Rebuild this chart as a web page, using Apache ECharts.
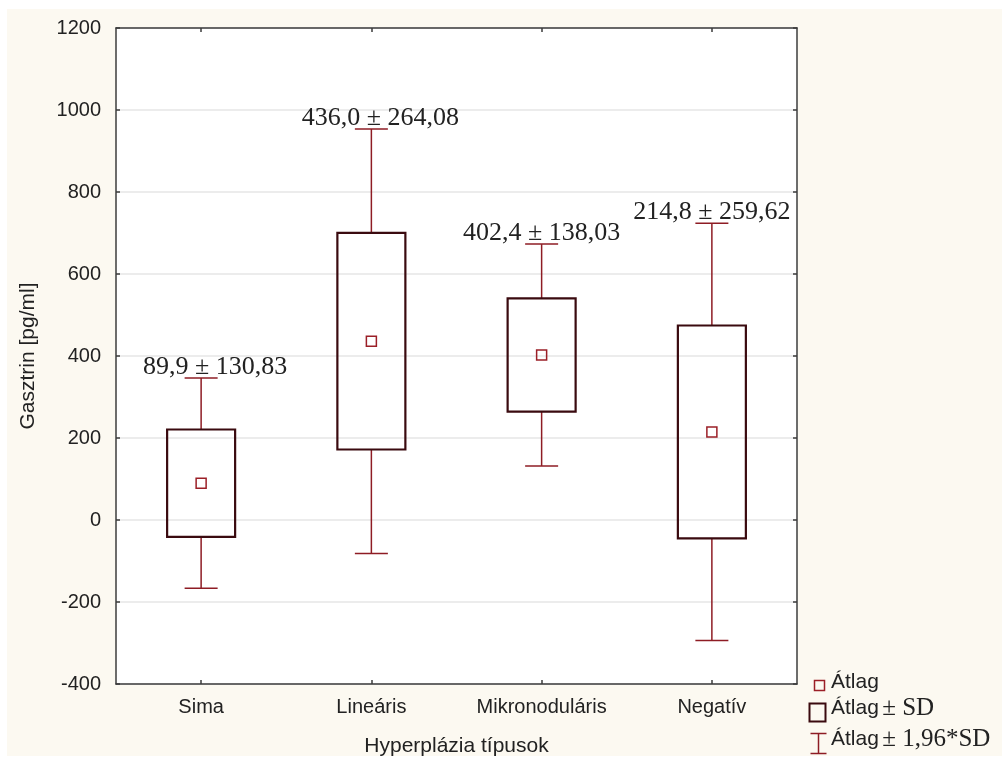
<!DOCTYPE html>
<html>
<head>
<meta charset="utf-8">
<script src="https://cdn.jsdelivr.net/npm/echarts@6/dist/echarts.min.js"></script>
<style>
html,body{margin:0;padding:0;background:#ffffff;}
#c{width:1002px;height:757px;}
</style>
</head>
<body>
<div id="c"></div>
<script>
// ---- data ----
const categories = ['Sima', 'Lineáris', 'Mikronoduláris', 'Negatív'];
const means = [89.9, 436.0, 402.4, 214.8];
const sds = [130.83, 264.08, 138.03, 259.62];
const whiskerFactor = 1.96;
const meanLabels = ['89,9 ± 130,83', '436,0 ± 264,08', '402,4 ± 138,03', '214,8 ± 259,62'];
const yTicks = [-400, -200, 0, 200, 400, 600, 800, 1000, 1200];

// ---- styles ----
const labelShiftX = [14, 9, 0, 0];
const whiskerColor = '#8e1c24';
const boxColor = '#3a0a0f';
const meanColor = '#9b1f27';
const axisColor = '#3c3c3c';
const sans = '"Liberation Sans", Arial, sans-serif';
const serif = '"Liberation Serif", "Times New Roman", serif';

const rows = categories.map((c, i) => [i, means[i], sds[i]]);

const chart = echarts.init(document.getElementById('c'), null, {renderer: 'canvas'});

const lineCommon = {show: true, onZero: false, lineStyle: {color: axisColor, width: 1.5}};
const tickCommon = {show: true, inside: true, length: 4, lineStyle: {color: axisColor, width: 1.5}};

const option = {
  animation: false,
  graphic: [
    {type: 'rect', left: 7, top: 9, shape: {width: 995, height: 747}, style: {fill: '#fcf9f1'}, z: -100, silent: true},
    // legend
    {type: 'rect', left: 812, top: 678, shape: {width: 10, height: 10}, style: {fill: 'none', stroke: meanColor, lineWidth: 1.5}, z: 10},
    {type: 'text', left: 831, top: 672, style: {text: 'Átlag', font: '21px ' + sans, fill: '#222'}, z: 10},
    {type: 'rect', left: 807, top: 701, shape: {width: 16, height: 18}, style: {fill: 'none', stroke: boxColor, lineWidth: 2}, z: 10},
    {type: 'text', left: 831, top: 696, style: {text: '{a|Átlag} {b|± SD}', rich: {a: {font: '21px ' + sans, fill: '#222'}, b: {font: '25px ' + serif, fill: '#222'}}}, z: 10},
    {type: 'group', left: 808, top: 731, z: 10, children: [
      {type: 'line', shape: {x1: 0, y1: 0, x2: 16, y2: 0}, style: {stroke: whiskerColor, lineWidth: 1.5}},
      {type: 'line', shape: {x1: 8, y1: 0, x2: 8, y2: 20}, style: {stroke: whiskerColor, lineWidth: 1.5}},
      {type: 'line', shape: {x1: 0, y1: 20, x2: 16, y2: 20}, style: {stroke: whiskerColor, lineWidth: 1.5}}
    ]},
    {type: 'text', left: 831, top: 727, style: {text: '{a|Átlag} {b|± 1,96*SD}', rich: {a: {font: '21px ' + sans, fill: '#222'}, b: {font: '25px ' + serif, fill: '#222'}}}, z: 10}
  ],
  grid: {left: 116, right: 205, top: 28, bottom: 73, show: true, backgroundColor: '#ffffff', borderWidth: 0, containLabel: false, outerBoundsMode: 'none'},
  xAxis: [
    {
      type: 'category', data: categories, position: 'bottom',
      name: 'Hyperplázia típusok', nameLocation: 'middle', nameGap: 52,
      nameTextStyle: {fontFamily: sans, fontSize: 21, color: '#222'},
      axisLabel: {fontFamily: sans, fontSize: 20, color: '#222', margin: 13},
      axisLine: lineCommon,
      axisTick: Object.assign({alignWithLabel: true}, tickCommon),
      splitLine: {show: false}
    },
    {
      type: 'category', data: categories, position: 'top',
      axisLabel: {show: false}, splitLine: {show: false},
      axisLine: lineCommon,
      axisTick: Object.assign({alignWithLabel: true}, tickCommon)
    }
  ],
  yAxis: [
    {
      type: 'value', min: yTicks[0], max: yTicks[yTicks.length - 1], interval: yTicks[1] - yTicks[0], position: 'left',
      name: 'Gasztrin [pg/ml]', nameLocation: 'middle', nameGap: 77, nameRotate: 90,
      nameTextStyle: {fontFamily: sans, fontSize: 21, color: '#222'},
      axisLabel: {fontFamily: sans, fontSize: 20, color: '#222', margin: 15, formatter: function (v) { return String(v); }},
      axisLine: lineCommon,
      axisTick: tickCommon,
      splitLine: {show: true, lineStyle: {color: '#e6e6e6', width: 1.5}}
    },
    {
      type: 'value', min: yTicks[0], max: yTicks[yTicks.length - 1], interval: yTicks[1] - yTicks[0], position: 'right',
      axisLabel: {show: false}, splitLine: {show: false},
      axisLine: lineCommon,
      axisTick: tickCommon
    }
  ],
  series: [{
    type: 'custom',
    name: 'stats',
    data: rows,
    encode: {x: 0, y: 1},
    z: 5,
    renderItem: function (params, api) {
      const idx = api.value(0);
      const m = api.value(1);
      const s = api.value(2);
      const bw = 68, cw = 33, ms = 10;
      const cTop = api.coord([idx, m + whiskerFactor * s]);
      const cBot = api.coord([idx, m - whiskerFactor * s]);
      const bTop = api.coord([idx, m + s]);
      const bBot = api.coord([idx, m - s]);
      const cm = api.coord([idx, m]);
      const x = cm[0];
      const wStyle = {stroke: whiskerColor, lineWidth: 1.5, fill: null};
      return {
        type: 'group',
        children: [
          {type: 'line', shape: {x1: x, y1: cTop[1], x2: x, y2: bTop[1]}, style: wStyle},
          {type: 'line', shape: {x1: x - cw / 2, y1: cTop[1], x2: x + cw / 2, y2: cTop[1]}, style: wStyle},
          {type: 'line', shape: {x1: x, y1: bBot[1], x2: x, y2: cBot[1]}, style: wStyle},
          {type: 'line', shape: {x1: x - cw / 2, y1: cBot[1], x2: x + cw / 2, y2: cBot[1]}, style: wStyle},
          {type: 'rect', shape: {x: x - bw / 2, y: bTop[1], width: bw, height: bBot[1] - bTop[1]},
           style: {fill: 'none', stroke: boxColor, lineWidth: 2.2}},
          {type: 'rect', shape: {x: x - ms / 2, y: cm[1] - ms / 2, width: ms, height: ms},
           style: {fill: 'none', stroke: meanColor, lineWidth: 1.5}},
          {type: 'text', x: x + labelShiftX[idx], y: cTop[1] + 2,
           style: {text: meanLabels[idx], align: 'center', verticalAlign: 'bottom',
                   font: '26px ' + serif, fill: '#222'}}
        ]
      };
    }
  }]
};
chart.setOption(option);
</script>
</body>
</html>
